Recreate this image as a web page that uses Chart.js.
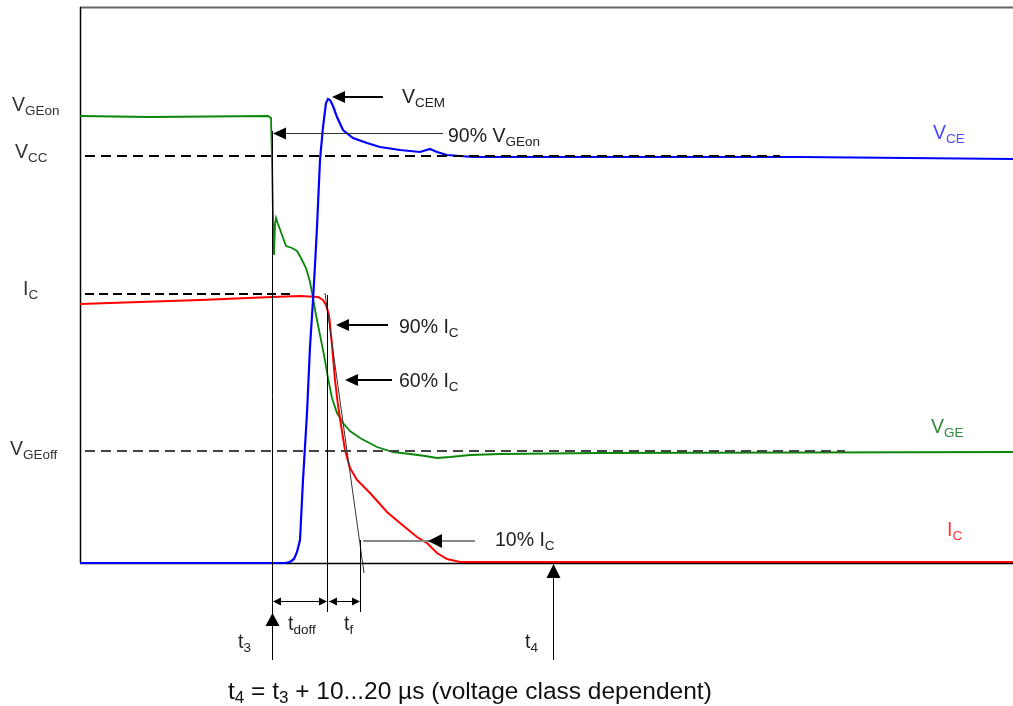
<!DOCTYPE html>
<html>
<head>
<meta charset="utf-8">
<script src="https://cdn.jsdelivr.net/npm/chart.js@4.4.1/dist/chart.umd.min.js"></script>
<style>
  html, body { margin: 0; padding: 0; background: #fff; }
  #wrap { width: 1013px; height: 706px; position: relative; }
</style>
</head>
<body>
<div id="wrap"><canvas id="chart"></canvas></div>
<script>
// Turn-off waveform
// x = time (arbitrary units, 0 = start of trace), y = level (0 = baseline)

const vgePoints = [
  [0, 447], [70, 446], [188, 447], [191, 445], [192, 403], [193, 348], [194, 308],
  [195, 338], [196, 345], [198, 339], [202, 328], [206, 317], [212, 315], [217, 312],
  [221, 305], [226, 295], [230, 281], [233, 265], [236, 248], [240, 228], [244, 208],
  [248, 185], [252, 165], [257, 150], [263, 140], [270, 132], [280, 125], [297, 116],
  [313, 111], [330, 109], [345, 107], [357, 105], [370, 106], [390, 108], [420, 109],
  [520, 110], [933, 111]
];

const vcePoints = [
  [0, 0], [205, 0], [210, 1], [214, 4], [217, 11], [220, 23], [223, 83], [227, 150],
  [230, 216], [233, 263], [235, 298], [237, 336], [240, 403], [243, 436], [246, 460],
  [248, 464], [250, 463], [253, 457], [257, 446], [263, 433], [273, 425], [287, 420],
  [300, 416], [320, 413], [340, 411], [350, 414], [357, 411], [367, 408], [393, 406],
  [500, 406], [720, 406], [933, 404]
];

const icPoints = [
  [0, 259], [120, 263], [192, 266], [220, 267], [238, 266], [243, 263], [246, 258],
  [249, 248], [252, 218], [255, 183], [258, 158], [261, 138], [265, 113], [270, 95],
  [277, 83], [290, 70], [307, 51], [320, 40], [337, 26], [347, 20], [357, 10],
  [367, 4], [380, 1], [933, 1]
];

// reference levels
const vccLevel = [[5, 407], [700, 407]];
const icLevel = [[5, 269], [212, 269]];
const vgeOffLevel = [[5, 112], [765, 112]];
const fallTangent = [[245, 270], [284, -10]];

// time markers
const tMarks = { t3: 192, tdoffEnd: 247, tfEnd: 280, t4: 473 };

const toXY = pts => pts.map(p => ({ x: p[0], y: p[1] }));
const FONT = '"Liberation Sans", Arial, sans-serif';

function drawSub(ctx, parts, x, y, color, big, small) {
  ctx.fillStyle = color;
  ctx.textBaseline = 'alphabetic';
  ctx.textAlign = 'left';
  let cx = x;
  parts.forEach(([txt, sub]) => {
    ctx.font = (sub ? small : big) + 'px ' + FONT;
    ctx.fillText(txt, cx, sub ? y + 4 : y);
    cx += ctx.measureText(txt).width;
  });
}

function head(ctx, tipX, tipY, dir, len, half, color) {
  // dir: 'left' | 'right' | 'up'
  ctx.fillStyle = color;
  ctx.beginPath();
  ctx.moveTo(tipX, tipY);
  if (dir === 'left') { ctx.lineTo(tipX + len, tipY - half); ctx.lineTo(tipX + len, tipY + half); }
  if (dir === 'right') { ctx.lineTo(tipX - len, tipY - half); ctx.lineTo(tipX - len, tipY + half); }
  if (dir === 'up') { ctx.lineTo(tipX - half, tipY + len); ctx.lineTo(tipX + half, tipY + len); }
  ctx.closePath();
  ctx.fill();
}

function seg(ctx, x1, y1, x2, y2, w, color) {
  ctx.strokeStyle = color;
  ctx.lineWidth = w;
  ctx.beginPath();
  ctx.moveTo(x1, y1);
  ctx.lineTo(x2, y2);
  ctx.stroke();
}

const frame = {
  id: 'frame',
  beforeDatasetsDraw(chart) {
    const ctx = chart.ctx;
    const X = v => chart.scales.x.getPixelForValue(v);
    const Y = v => chart.scales.y.getPixelForValue(v);
    ctx.save();
    seg(ctx, X(0), Y(556) + 0.5, X(933), Y(556) + 0.5, 2, '#666');
    seg(ctx, X(0) + 0.5, Y(556), X(0) + 0.5, Y(0), 1.5, '#000');
    seg(ctx, X(0), Y(0) + 0.5, X(933), Y(0) + 0.5, 1.5, '#000');
    ctx.restore();
  }
};

const annotate = {
  id: 'annotate',
  afterDatasetsDraw(chart) {
    const ctx = chart.ctx;
    const X = v => chart.scales.x.getPixelForValue(v);
    const Y = v => chart.scales.y.getPixelForValue(v);
    ctx.save();

    // vertical time markers
    seg(ctx, X(tMarks.t3) + 0.5, Y(432), X(tMarks.t3) + 0.5, Y(-97), 1, '#000');
    head(ctx, X(tMarks.t3) + 0.5, Y(-50), 'up', 13, 7, '#000');
    seg(ctx, X(tMarks.tdoffEnd) + 0.5, Y(268), X(tMarks.tdoffEnd) + 0.5, Y(-49), 1, '#000');
    seg(ctx, X(tMarks.tfEnd) + 0.5, Y(23), X(tMarks.tfEnd) + 0.5, Y(-49), 1, '#000');
    seg(ctx, X(tMarks.t4) + 0.5, Y(-14), X(tMarks.t4) + 0.5, Y(-97), 1, '#000');
    head(ctx, X(tMarks.t4) + 0.5, Y(-1), 'up', 14, 7, '#000');

    // tdoff / tf span arrows
    const ySpan = Y(-38) + 0.5;
    seg(ctx, X(tMarks.t3) + 2, ySpan, X(tMarks.tdoffEnd) - 2, ySpan, 1, '#000');
    head(ctx, X(tMarks.t3) + 1, ySpan, 'left', 8, 4, '#000');
    head(ctx, X(tMarks.tdoffEnd), ySpan, 'right', 8, 4, '#000');
    seg(ctx, X(tMarks.tdoffEnd) + 2, ySpan, X(tMarks.tfEnd) - 2, ySpan, 1, '#000');
    head(ctx, X(tMarks.tdoffEnd) + 2, ySpan, 'left', 8, 4, '#000');
    head(ctx, X(tMarks.tfEnd), ySpan, 'right', 8, 4, '#000');

    // pointer arrows
    seg(ctx, X(303), Y(466), X(262), Y(466), 2, '#000');
    head(ctx, X(252), Y(466), 'left', 13, 6, '#000');
    seg(ctx, X(363), Y(430) + 0.5, X(203), Y(430) + 0.5, 1.2, '#333');
    head(ctx, X(193), Y(430) + 0.5, 'left', 13, 6, '#000');
    seg(ctx, X(308), Y(238), X(266), Y(238), 2, '#000');
    head(ctx, X(256), Y(238), 'left', 13, 6, '#000');
    seg(ctx, X(312), Y(183), X(275), Y(183), 2, '#000');
    head(ctx, X(265), Y(183), 'left', 13, 6, '#000');
    seg(ctx, X(283), Y(22), X(395), Y(22), 2, '#888');
    head(ctx, X(348), Y(22), 'left', 14, 7, '#000');

    // labels
    const B = 19.5, S = 13.5;
    drawSub(ctx, [['V', false], ['GEon', true]], X(-68), Y(452), '#333', B, S);
    drawSub(ctx, [['V', false], ['CC', true]], X(-65), Y(405), '#333', B, S);
    drawSub(ctx, [['I', false], ['C', true]], X(-57), Y(268), '#333', B, S);
    drawSub(ctx, [['V', false], ['GEoff', true]], X(-70), Y(108), '#333', B, S);
    drawSub(ctx, [['V', false], ['CEM', true]], X(322), Y(460), '#222', B, S);
    drawSub(ctx, [['90% V', false], ['GEon', true]], X(368), Y(421), '#222', B, S);
    drawSub(ctx, [['V', false], ['CE', true]], X(853), Y(424), '#4848ff', B, S);
    drawSub(ctx, [['V', false], ['GE', true]], X(851), Y(130), '#2e8b3a', B, S);
    drawSub(ctx, [['I', false], ['C', true]], X(867), Y(27), '#ff3333', B, S);
    drawSub(ctx, [['90% I', false], ['C', true]], X(319), Y(230), '#222', B, S);
    drawSub(ctx, [['60% I', false], ['C', true]], X(319), Y(176), '#222', B, S);
    drawSub(ctx, [['10% I', false], ['C', true]], X(415), Y(17), '#222', B, S);
    drawSub(ctx, [['t', false], ['doff', true]], X(208), Y(-67), '#222', B, S);
    drawSub(ctx, [['t', false], ['f', true]], X(264), Y(-67), '#222', B, S);
    drawSub(ctx, [['t', false], ['3', true]], X(158), Y(-85), '#222', B, S);
    drawSub(ctx, [['t', false], ['4', true]], X(445), Y(-85), '#222', B, S);
    drawSub(ctx, [['t', false], ['4', true], [' = t', false], ['3', true],
      [' + 10...20 µs (voltage class dependent)', false]], X(148), Y(-136), '#111', 24.5, 17);

    ctx.restore();
  }
};

const line = (pts, color, width, extra) => Object.assign({
  data: toXY(pts),
  borderColor: color,
  borderWidth: width,
  pointRadius: 0,
  tension: 0,
  fill: false,
  clip: false
}, extra || {});

new Chart(document.getElementById('chart'), {
  type: 'line',
  data: {
    datasets: [
      line(vccLevel, '#000', 2, { borderDash: [10, 6], order: 0 }),
      line(icLevel, '#000', 2, { borderDash: [9, 5], order: 0 }),
      line(vgeOffLevel, '#444', 2, { borderDash: [10, 6], order: 0 }),
      line(fallTangent, '#333', 1, { order: 0 }),
      line(vcePoints, '#0000ff', 2.2, { order: 1 }),
      line(icPoints, '#ff0000', 2, { order: 2 }),
      line(vgePoints, '#0a870a', 1.8, { order: 3 })
    ]
  },
  options: {
    responsive: true,
    maintainAspectRatio: false,
    animation: false,
    devicePixelRatio: 1,
    layout: { padding: { top: 7, left: 0, right: 0, bottom: 0 } },
    scales: {
      x: { type: 'linear', min: -80, max: 933, display: false },
      y: { type: 'linear', min: -143, max: 556, display: false }
    },
    plugins: {
      legend: { display: false },
      tooltip: { enabled: false }
    }
  },
  plugins: [frame, annotate]
});
</script>
</body>
</html>
